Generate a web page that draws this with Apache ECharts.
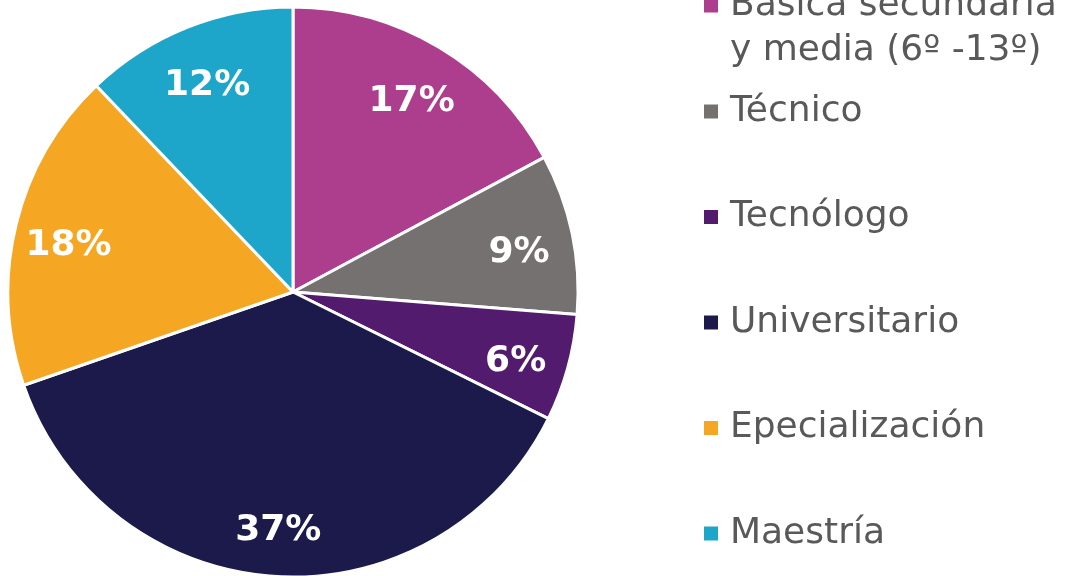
<!DOCTYPE html>
<html>
<head>
<meta charset="utf-8">
<script src="https://cdn.jsdelivr.net/npm/echarts@6/dist/echarts.min.js"></script>
<style>
  html, body { margin: 0; padding: 0; background: #fff; }
  #chart { width: 1076px; height: 576px; }
</style>
</head>
<body>
<div id="chart"></div>
<script>
// niveles educativos
const categories = ['Básica secundaria y media (6º -13º)', 'Técnico', 'Tecnólogo', 'Universitario', 'Epecialización', 'Maestría'];
const values = [17, 9, 6, 37, 18, 12];
const colors = ['#AD3E8E', '#767171', '#531B6E', '#1B1A4B', '#F5A623', '#1EA6CA'];

const FONT = 'DejaVu Sans';
const LH = 45;

const legendText = {
	fontFamily: FONT,
	fontSize: 36,
	lineHeight: LH,
	color: '#595959',
	padding: [0, 0, 0, 6],
};

const chart = echarts.init(document.getElementById('chart'));
chart.setOption({
	animation: false,
	legend: [
		{
			// first item wraps: blank first line so the marker sits on 'Básica secundaria'
			orient: 'vertical',
			left: 702,
			top: 5.5 - LH * 1.5,
			padding: 0,
			itemWidth: 16,
			itemHeight: 16,
			icon: 'rect',
			selectedMode: false,
			data: [categories[0]],
			formatter: () => ' \nBásica secundaria\ny media (6º -13º)',
			textStyle: legendText,
		},
		{
			orient: 'vertical',
			left: 702,
			top: 111.5 - LH / 2,
			padding: 0,
			itemGap: 105.5 - LH,
			itemWidth: 16,
			itemHeight: 16,
			icon: 'rect',
			selectedMode: false,
			data: categories.slice(1),
			textStyle: legendText,
		},
	],
	series: [
		{
			type: 'pie',
			center: [293, 292],
			radius: [0, 285],
			startAngle: 90,
			silent: true,
			label: { show: false },
			labelLine: { show: false },
			itemStyle: { borderColor: '#fff', borderWidth: 3 },
			data: categories.map((name, i) => ({ name: name, value: values[i], itemStyle: { color: colors[i] } })),
		},
		{
			// transparent ring, only used to place the labels (sit a bit lower than the pie centre)
			type: 'pie',
			center: [293, 300],
			radius: [171, 285],
			startAngle: 90,
			silent: true,
			itemStyle: { color: 'transparent' },
			label: {
				show: true,
				position: 'inside',
				formatter: '{c}%',
				color: '#fff',
				fontFamily: FONT,
				fontWeight: 'bold',
				fontSize: 36,
			},
			labelLine: { show: false },
			data: categories.map((name, i) => ({ name: name, value: values[i] })),
		},
	],
});
</script>
</body>
</html>
